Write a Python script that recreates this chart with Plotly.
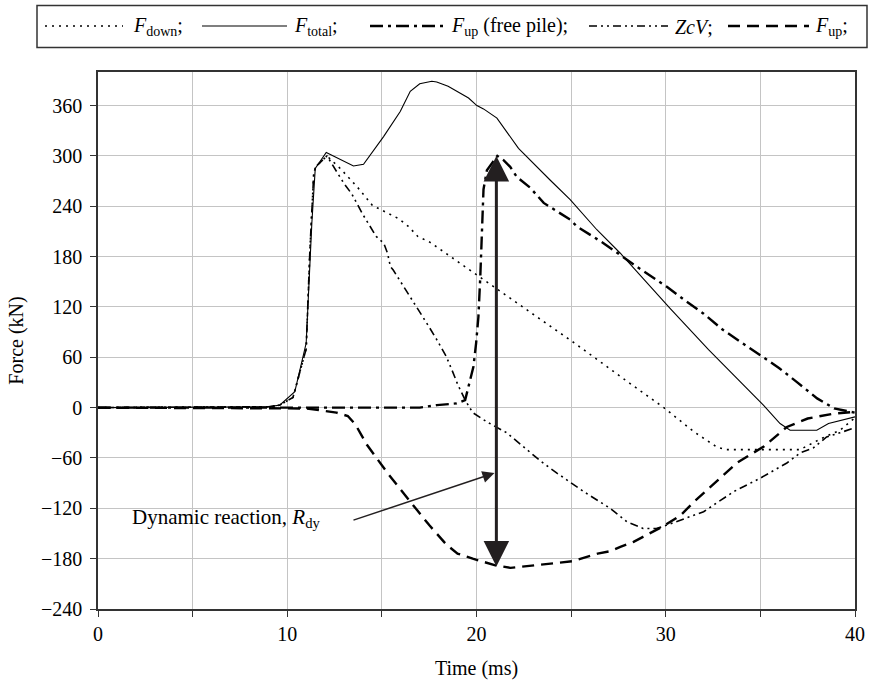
import plotly.graph_objects as go

# ---------------- data ----------------
t_down = [0, 9.0, 9.6, 10.3, 11.0, 11.2, 11.4, 11.5, 12.1, 12.8, 13.7, 14.5, 15.2, 15.9, 16.4, 16.9,
          17.55, 19.9, 22.3, 25.3, 28.1, 29.9, 31.5, 32.7, 33.2, 37.1, 38.2, 39.2, 40]
f_down = [0, 1, 3, 12, 70, 190, 279, 287, 300, 285, 263, 241, 233, 225, 216, 204,
          197, 160, 122, 75, 29, 0, -29, -47, -50, -50, -37, -27, -12]

t_total = [0, 9.0, 9.6, 10.4, 11.0, 11.3, 11.48, 12.06, 13.5, 14.03, 15.09, 15.97, 16.5, 17.0, 17.64,
           17.9, 18.5, 19.58, 20.02, 20.37, 21.08, 22.22, 23.9, 24.95, 26.36, 27.6, 30.24, 32.26,
           35.16, 36.04, 36.57, 37.98, 38.6, 39.39, 40]
f_total = [0, 1, 3, 19, 77, 220, 285, 304, 288, 290, 323, 353, 377, 386, 389,
           388, 383, 369, 360, 356, 345, 309, 271, 248, 212, 184, 118, 69,
           3, -19, -27, -27, -19, -15, -11]

t_upfree = [0, 17.0, 17.9, 18.95, 19.4, 19.84, 19.98, 20.1, 20.2, 20.29, 20.37, 20.55, 21.0, 21.1,
            21.43, 21.78, 22.13, 22.84, 23.55, 24.95, 25.3, 26.71, 28.47, 30.06, 31.0, 32.0, 33.0,
            34.0, 35.0, 36.0, 36.9, 37.5, 38.0, 38.9, 39.5, 40]
f_upfree = [0, 0, 3, 5, 9, 49, 77, 108, 156, 204, 260, 283, 297, 300,
            295, 287, 275, 262, 244, 224, 216, 196, 168, 144, 128, 112, 93,
            78, 63, 47, 31, 20, 11, -1, -4, -6]

t_zcv = [0, 9.0, 9.6, 10.3, 11.0, 11.2, 11.4, 11.5, 12.1, 13.0, 13.4, 13.7, 14.0, 14.7, 15.1, 15.3,
         15.45, 15.6, 16.0, 16.6, 17.2, 17.5, 17.9, 18.4, 18.7, 19.0, 19.4, 19.8, 20.55, 21.6, 22.66,
         23.4, 24.25, 25.66, 27.06, 27.94, 28.8, 29.5, 30.06, 32.0, 33.6, 35.0, 36.4, 37.1, 37.8,
         38.5, 39.2, 40]
f_zcv = [0, 1, 3, 12, 70, 190, 279, 287, 300, 267, 255, 242, 230, 204, 196, 184,
         168, 164, 150, 128, 108, 96, 81, 61, 45, 28, 9, -6, -17, -30, -50,
         -64, -78, -100, -120, -136, -144, -144, -140, -124, -100, -84, -66, -54, -48,
         -35, -30, -24]

t_up = [0, 11.0, 11.7, 12.6, 13.2, 13.6, 14.2, 14.9, 15.3, 16.0, 16.7, 17.5, 18.4, 19.0, 19.8, 21.0,
        21.8, 22.6, 24.0, 25.1, 26.4, 27.1, 27.6, 28.3, 28.8, 29.5, 29.9, 30.8, 31.5, 32.0, 33.75,
        35.2, 36.4, 37.5, 38.9, 40]
f_up = [0, -1, -3, -6, -10, -20, -44, -66, -78, -98, -118, -140, -163, -174, -180, -188,
        -191, -189, -186, -183, -174, -171, -166, -160, -154, -146, -141, -128, -112, -102, -66,
        -46, -23, -13, -7, -5]

x_ticks = [0, 10, 20, 30, 40]
x_labels = ["0", "10", "20", "30", "40"]
y_ticks = [-240, -180, -120, -60, 0, 60, 120, 180, 240, 300, 360]
y_labels = ["\u2212240", "\u2212180", "\u2212120", "\u221260", "0", "60", "120", "180", "240", "300", "360"]

legend_names = ["<i>F</i><sub>down</sub>;", "<i>F</i><sub>total</sub>;",
                "<i>F</i><sub>up</sub> (free pile);", "<i>ZcV</i>;", "<i>F</i><sub>up</sub>;"]

# ---------------- styles ----------------
FONT = "'Liberation Serif', 'Times New Roman', Times, serif"
INK = "#000000"
ARROW = "#231f20"
GRID = "#c4c4c4"
styles = [
    dict(width=1.6, dash="2px,5px"),                      # F_down
    dict(width=1.1, dash="solid"),                        # F_total
    dict(width=2.4, dash="13px,5px,3px,5px"),             # F_up free pile
    dict(width=1.6, dash="8px,4px,2px,4px,2px,4px"),      # ZcV
    dict(width=2.4, dash="12px,7px"),                     # F_up
]
series = [(t_down, f_down), (t_total, f_total), (t_upfree, f_upfree), (t_zcv, f_zcv), (t_up, f_up)]

W, H = 870, 685
ML, MR, MT, MB = 98, 15, 72, 76
PW, PH = W - ML - MR, H - MT - MB


def px(xp):
    return (xp - ML) / PW


def py(yp):
    return (H - MB - yp) / PH


fig = go.Figure()
for (tx, fy), st, nm in zip(series, styles, legend_names):
    fig.add_trace(go.Scatter(x=tx, y=fy, mode="lines", name=nm, showlegend=False,
                             line=dict(color=INK, width=st["width"], dash=st["dash"])))

shapes = []
annotations = []

# legend box (drawn as key)
shapes.append(dict(type="rect", xref="paper", yref="paper", x0=px(37), x1=px(867), y0=py(47.5), y1=py(5.5),
                   line=dict(color="#333333", width=1.5), fillcolor="white", layer="above"))
sample_x = [(45, 123, 131), (202, 287, 292), (370, 443, 449), (589, 668, 673), (728, 809, 813)]
ly = 26
for (a, b, tx0), st, nm in zip(sample_x, styles, legend_names):
    shapes.append(dict(type="line", xref="paper", yref="paper", x0=px(a), x1=px(b), y0=py(ly), y1=py(ly),
                       line=dict(color=INK, width=st["width"], dash=st["dash"]), layer="above"))
    annotations.append(dict(xref="paper", yref="paper", x=px(tx0), y=py(ly + 1), xanchor="left",
                            yanchor="middle", text=nm, showarrow=False,
                            font=dict(family=FONT, size=20, color=INK)))

# dynamic reaction double arrow
annotations.append(dict(x=21.05, y=300, ax=21.05, ay=-191, xref="x", yref="y", axref="x", ayref="y",
                        text="", showarrow=True, arrowside="end+start", arrowhead=2, startarrowhead=2,
                        arrowsize=1.7, startarrowsize=1.7, arrowwidth=3, arrowcolor=ARROW))
# pointer arrow
annotations.append(dict(x=20.95, y=-78, ax=13.42, ay=-134.7, xref="x", yref="y", axref="x", ayref="y",
                        text="", showarrow=True, arrowhead=2, arrowsize=1.6, arrowwidth=1.5,
                        arrowcolor=ARROW))
annotations.append(dict(x=1.71, y=-132, xref="x", yref="y", xanchor="left", yanchor="middle",
                        text="Dynamic reaction, <i>R</i><sub>dy</sub>", showarrow=False,
                        font=dict(family=FONT, size=21, color=INK)))

fig.update_layout(
    width=W, height=H, margin=dict(l=ML, r=MR, t=MT, b=MB, autoexpand=False),
    paper_bgcolor="white", plot_bgcolor="white",
    font=dict(family=FONT, size=20, color=INK),
    shapes=shapes, annotations=annotations, showlegend=False,
    xaxis=dict(range=[0, 40], tickvals=x_ticks, ticktext=x_labels, ticks="outside", ticklen=6,
               tickcolor="#333333", showline=True, mirror=True, linecolor="#333333", linewidth=1.5,
               showgrid=True, gridcolor=GRID, gridwidth=1, zeroline=False, automargin=False,
               minor=dict(dtick=5, tick0=0, ticks="outside", ticklen=6, tickcolor="#333333",
                          showgrid=True, gridcolor=GRID, gridwidth=1),
               title=dict(text="Time (ms)", font=dict(family=FONT, size=20), standoff=17),
               tickfont=dict(family=FONT, size=20)),
    yaxis=dict(range=[-240, 400], tickvals=y_ticks, ticktext=y_labels, ticks="outside", ticklen=6,
               tickcolor="#333333", showline=True, mirror=True, linecolor="#333333", linewidth=1.5,
               showgrid=True, gridcolor=GRID, gridwidth=1, zeroline=False, ticklabelstandoff=4,
               automargin=False,
               title=dict(text="Force (kN)", font=dict(family=FONT, size=20), standoff=12),
               tickfont=dict(family=FONT, size=20)),
)

fig.write_html("out.html")
